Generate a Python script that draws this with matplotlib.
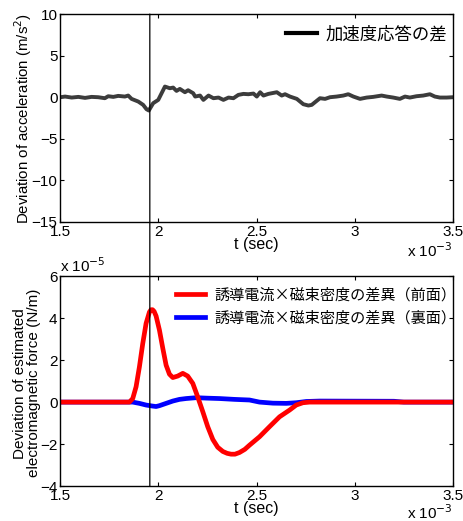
"""Acceleration response deviation vs. estimated electromagnetic force deviation."""

import matplotlib
matplotlib.use("Agg")
import matplotlib.pyplot as plt
from matplotlib.lines import Line2D
from matplotlib.patches import ConnectionPatch

plt.rcParams["font.family"] = ["Liberation Sans", "Noto Sans CJK JP"]
plt.rcParams["axes.unicode_minus"] = True

JP = ["Noto Sans CJK JP", "DejaVu Sans"]
INK = "#000000"
GRAY = "#3c3c3c"

# time axis in units of 1e-3 s
t_acc = [1.50, 1.524, 1.558, 1.592, 1.626, 1.659, 1.693, 1.727, 1.744, 1.770,
         1.795, 1.829, 1.846, 1.863, 1.897, 1.922, 1.939, 1.951, 1.973, 1.999,
         2.016, 2.033, 2.058, 2.075, 2.092, 2.109, 2.135, 2.151, 2.177, 2.187,
         2.212, 2.229, 2.255, 2.280, 2.306, 2.331, 2.357, 2.382, 2.407, 2.433,
         2.458, 2.484, 2.501, 2.518, 2.535, 2.560, 2.586, 2.603, 2.628, 2.645,
         2.670, 2.705, 2.738, 2.764, 2.781, 2.806, 2.823, 2.849, 2.874, 2.908,
         2.942, 2.967, 2.993, 3.027, 3.061, 3.094, 3.137, 3.163, 3.196, 3.230,
         3.256, 3.281, 3.315, 3.349, 3.383, 3.408, 3.434, 3.468, 3.50]
acc_diff = [0.0, 0.08, -0.04, 0.04, -0.08, 0.04, 0.0, -0.12, 0.12, 0.04,
            0.16, 0.08, 0.2, -0.2, -0.52, -0.92, -1.44, -1.6, -0.72, -0.32,
            0.48, 1.28, 1.08, 1.16, 0.76, 1.0, 0.6, 0.84, 0.48, 0.08,
            0.2, -0.32, 0.2, -0.12, -0.04, -0.32, -0.04, -0.12, 0.28, 0.4,
            0.36, 0.44, 0.08, 0.6, 0.2, 0.4, 0.52, 0.6, 0.2, 0.36,
            0.08, -0.2, -0.84, -1.0, -0.92, -0.44, -0.12, -0.2, 0.0, 0.08,
            0.2, 0.36, 0.08, -0.2, -0.04, 0.04, 0.2, 0.08, -0.04, -0.2,
            0.08, -0.04, 0.12, 0.2, 0.36, 0.08, -0.04, -0.04, 0.0]

# force deviation in units of 1e-5 N/m
t_front = [1.50, 1.852, 1.869, 1.886, 1.903, 1.920, 1.937, 1.954, 1.962, 1.970,
           1.978, 1.988, 2.005, 2.022, 2.039, 2.056, 2.073, 2.098, 2.124, 2.149,
           2.175, 2.200, 2.226, 2.251, 2.277, 2.302, 2.328, 2.350, 2.370, 2.390,
           2.413, 2.440, 2.464, 2.515, 2.566, 2.617, 2.668, 2.702, 2.736, 2.770,
           3.50]
f_front = [0.0, 0.0, 0.17, 0.73, 1.68, 2.79, 3.75, 4.29, 4.40, 4.40,
           4.32, 4.10, 3.43, 2.57, 1.76, 1.33, 1.17, 1.24, 1.37, 1.24,
           0.89, 0.25, -0.46, -1.17, -1.78, -2.15, -2.35, -2.44, -2.48, -2.48,
           -2.40, -2.25, -2.05, -1.65, -1.17, -0.70, -0.38, -0.14, -0.03, 0.0,
           0.0]

t_back = [1.50, 1.869, 1.903, 1.937, 1.971, 1.988, 2.005, 2.039, 2.073, 2.107,
          2.141, 2.192, 2.243, 2.311, 2.387, 2.464, 2.515, 2.583, 2.651, 2.702,
          2.753, 2.821, 3.20, 3.25, 3.50]
f_back = [0.0, 0.0, -0.06, -0.14, -0.19, -0.21, -0.17, -0.06, 0.05, 0.13,
          0.17, 0.21, 0.19, 0.17, 0.13, 0.10, 0.0, -0.05, -0.06, -0.03,
          0.03, 0.05, 0.04, 0.0, 0.0]

T_MARK = 1.956

acc_label = "加速度応答の差"
front_label = "誘導電流×磁束密度の差異（前面）"
back_label = "誘導電流×磁束密度の差異（裏面）"

TICKS_X = [1.5, 2, 2.5, 3, 3.5]
TICK_LABELS_X = ["1.5", "2", "2.5", "3", "3.5"]


def matlab_axes(ax):
    ax.tick_params(direction="in", top=True, right=True, length=3,
                   width=0.8, labelsize=11, pad=2)
    for spine in ax.spines.values():
        spine.set_linewidth(1.0)


fig = plt.figure(figsize=(4.64, 5.21), dpi=100, facecolor="white")
ax1 = fig.add_axes([0.130, 0.574, 0.846, 0.399])
ax2 = fig.add_axes([0.130, 0.067, 0.846, 0.403])

ax1.plot(t_acc, acc_diff, color=GRAY, linewidth=2.8, solid_joinstyle="round")
ax1.set_xlim(1.5, 3.5)
ax1.set_ylim(-15, 10)
ax1.set_xticks(TICKS_X, labels=TICK_LABELS_X)
ax1.set_yticks([10, 5, 0, -5, -10, -15])
ax1.set_xlabel("t (sec)", fontsize=11.5, labelpad=-1)
ax1.set_ylabel("Deviation of acceleration (m/s$^2$)", fontsize=10.8)
ax1.yaxis.set_label_coords(-0.068, 0.5)
matlab_axes(ax1)
ax1.legend([Line2D([], [], color=INK, linewidth=3)], [acc_label],
           loc="upper right", bbox_to_anchor=(1.015, 1.0), frameon=False,
           handlelength=1.8, handletextpad=0.5,
           prop={"family": JP, "size": 12.5}, borderaxespad=0.25)
ax1.text(1.0, -0.095, "x 10$^{-3}$", transform=ax1.transAxes,
         ha="right", va="top", fontsize=11)

ax2.plot(t_back, f_back, color="#0000ff", linewidth=3.4, label=back_label)
ax2.plot(t_front, f_front, color="#ff0000", linewidth=3.4, label=front_label,
         solid_joinstyle="round")
ax2.set_xlim(1.5, 3.5)
ax2.set_ylim(-4, 6)
ax2.set_xticks(TICKS_X, labels=TICK_LABELS_X)
ax2.set_yticks([6, 4, 2, 0, -2, -4])
ax2.set_xlabel("t (sec)", fontsize=11.5, labelpad=-1)
ax2.set_ylabel("Deviation of estimated\nelectromagnetic force (N/m)",
               fontsize=11, linespacing=1.0)
ax2.yaxis.set_label_coords(-0.05, 0.49)
matlab_axes(ax2)
handles, labels = ax2.get_legend_handles_labels()
ax2.legend(handles[::-1], labels[::-1], loc="upper right",
           bbox_to_anchor=(1.03, 0.99), frameon=False,
           handlelength=1.9, handletextpad=0.6, prop={"family": JP, "size": 10.9},
           borderaxespad=0.15, labelspacing=0.4)
ax2.text(1.0, -0.08, "x 10$^{-3}$", transform=ax2.transAxes,
         ha="right", va="top", fontsize=11)
ax2.text(0.0, 1.005, "x 10$^{-5}$", transform=ax2.transAxes,
         ha="left", va="bottom", fontsize=11)

marker = ConnectionPatch(xyA=(T_MARK, 10), coordsA=ax1.transData,
                         xyB=(T_MARK, -4), coordsB=ax2.transData,
                         color=INK, linewidth=0.9)
fig.add_artist(marker)

fig.savefig("out.png", dpi=100, facecolor="white")
